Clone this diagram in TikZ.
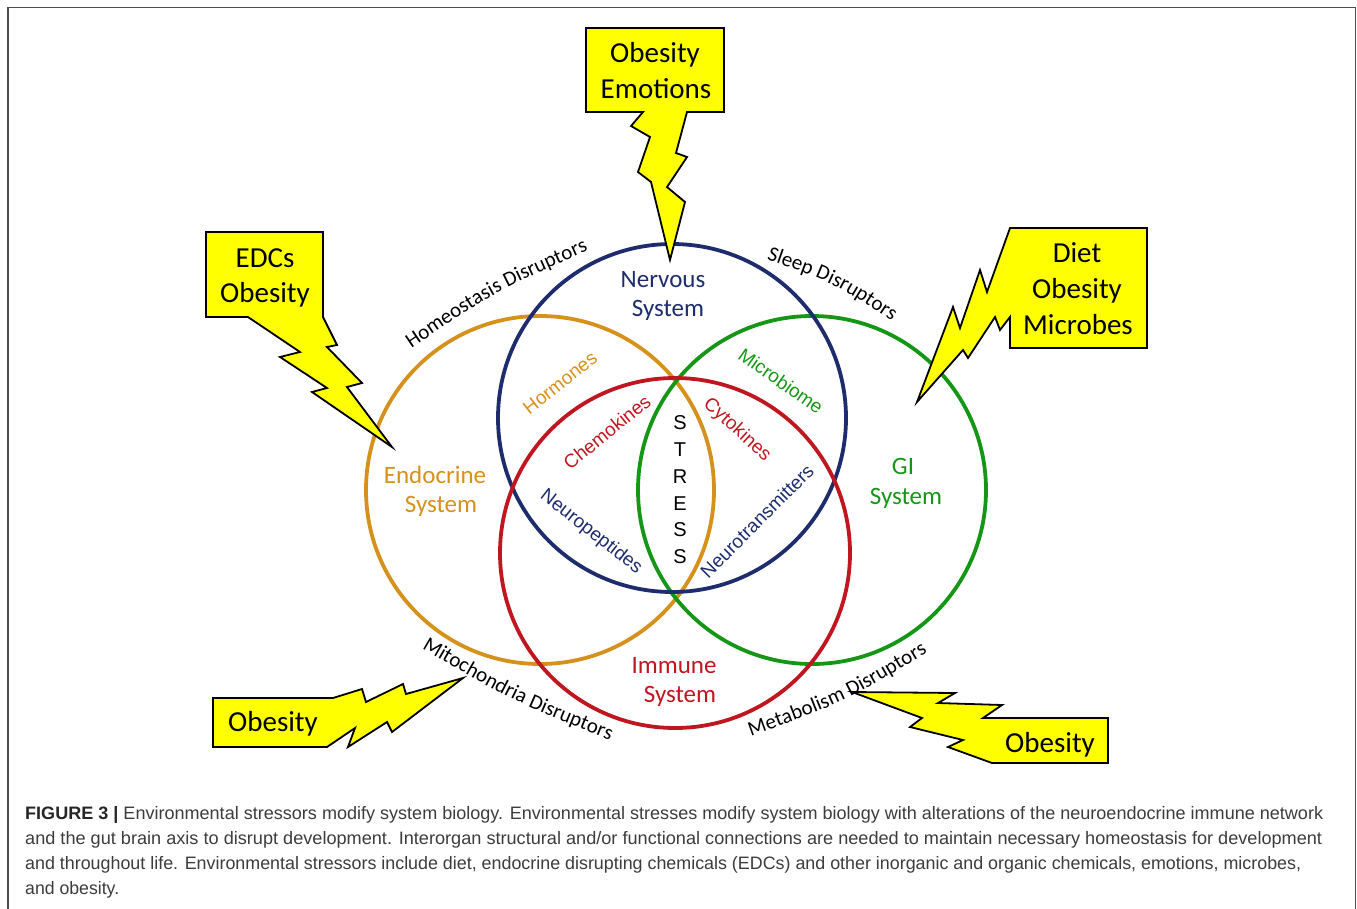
\documentclass[tikz,border=0pt]{standalone}
\usepackage{fontspec}
\usepackage{graphicx}
\setmainfont{Carlito}
\newfontfamily\arialf{Liberation Sans}
\usetikzlibrary{decorations.text}
\definecolor{navyc}{RGB}{30,44,110}
\definecolor{orangec}{RGB}{212,145,28}
\definecolor{greenc}{RGB}{22,150,22}
\definecolor{redc}{RGB}{192,22,32}
\definecolor{boltc}{RGB}{255,255,0}
\definecolor{capc}{RGB}{60,60,60}
\begin{document}
\begin{tikzpicture}[x=1pt,y=-1pt,
  ring/.style={line width=3.8pt},
  bolt/.style={fill=boltc, draw=black, line width=1.8pt, line join=miter},
  boxtxt/.style={anchor=base, font=\fontsize{29}{35}\selectfont, inner sep=0pt},
  systxt/.style={anchor=base, font=\fontsize{25}{30}\selectfont, inner sep=0pt},
  innertxt/.style={font=\arialf\fontsize{19}{22}\selectfont, inner sep=0pt},
  stresstxt/.style={anchor=base, font=\arialf\fontsize{20}{24}\selectfont, inner sep=0pt},
  captxt/.style={anchor=base west, inner sep=0pt, text=capc, font=\arialf\fontsize{18}{22}\selectfont},
  arctxt/.style={decorate, decoration={text along path, text align=center}},
]
\useasboundingbox (0,0) rectangle (1357,908);
% frame
\draw[line width=1.5pt, draw=black!70] (8,912) -- (8,7.5) -- (1355.5,7.5) -- (1355.5,912);

% circles
\draw[ring, draw=orangec] (540,490) circle[radius=174];
\draw[ring, draw=greenc] (812,490) circle[radius=174];
\draw[ring, draw=navyc] (672,418) circle[radius=174];
\draw[ring, draw=redc] (675,553) circle[radius=175];

% bolts with boxes
\draw[bolt] (586,28) -- (724,28) -- (724,112) -- (687,112) -- (676,153) -- (687,157) -- (667,187) -- (685,202) -- (670,260)
  -- (651,182) -- (638,172) -- (650,137) -- (631,126) -- (643,112) -- (586,112) -- cycle;
\draw[bolt] (206,232) -- (323,232) -- (323,317) -- (337,345) -- (327,347) -- (362,383) -- (347,387) -- (392,447)
  -- (312,392) -- (327,388) -- (280,357) -- (300,352) -- (248,317) -- (206,317) -- cycle;
\draw[bolt] (1010,228) -- (1147,228) -- (1147,348) -- (1010,348) -- (1010,317) -- (1000,330) -- (995,317) -- (968,358)
  -- (963,350) -- (917,402) -- (953,307) -- (960,328) -- (980,270) -- (987,292) -- cycle;
\draw[bolt] (213,698) -- (333,698) -- (362,689) -- (366,702) -- (403,684) -- (406,694) -- (463,678)
  -- (392,732) -- (387,722) -- (348,747) -- (355,728) -- (327,747) -- (213,747) -- cycle;
\draw[bolt] (852,692) -- (955,693) -- (938,703) -- (1002,705) -- (983,718) -- (1108,718) -- (1108,763) -- (992,763)
  -- (948,747) -- (963,740) -- (910,727) -- (922,718) -- cycle;

% box texts
\node[boxtxt] (b1a) at (655,62) {Obesity};
\node[boxtxt] (b1b) at (656,98) {Emotions};
\node[boxtxt] (b2a) at (265,267) {EDCs};
\node[boxtxt] (b2b) at (265,302) {Obesity};
\node[boxtxt] (b3a) at (1077,262) {Diet};
\node[boxtxt] (b3b) at (1077,298) {Obesity};
\node[boxtxt] (b3c) at (1078,334) {Microbes};
\node[boxtxt] (b4a) at (273,731) {Obesity};
\node[boxtxt] (b5a) at (1050,752) {Obesity};

% system labels
\node[systxt, text=navyc] (nv1) at (663,287) {Nervous};
\node[systxt, text=navyc] (nv2) at (668,316) {System};
\node[systxt, text=orangec] (en1) at (435,483) {Endocrine};
\node[systxt, text=orangec] (en2) at (441,512) {System};
\node[systxt, text=greenc] (gi1) at (903,474) {GI};
\node[systxt, text=greenc] (gi2) at (906,504) {System};
\node[systxt, text=redc] (im1) at (674,673) {Immune};
\node[systxt, text=redc] (im2) at (680,702) {System};

% inner labels
\node[innertxt, text=orangec, rotate=38] (hor) at (560,383) {Hormones};
\node[innertxt, text=redc, rotate=39] (che) at (607,432) {Chemokines};
\node[innertxt, text=redc, rotate=-42] (cyt) at (737,430) {Cytokines};
\node[innertxt, text=greenc, rotate=-35] (mic) at (781,381) {Microbiome};
\node[innertxt, text=navyc, rotate=-38] (neup) at (591,532) {Neuropeptides};
\node[innertxt, text=navyc, rotate=45] (neut) at (757,521) {Neurotransmitters};

% STRESS
\node[stresstxt] (s1) at (680,429) {S};
\node[stresstxt] (s2) at (680,456) {T};
\node[stresstxt] (s3) at (680,483) {R};
\node[stresstxt] (s4) at (680,510) {E};
\node[stresstxt] (s5) at (680,536) {S};
\node[stresstxt] (s6) at (680,563) {S};

% arc labels
\path[arctxt, decoration={text={|\fontsize{21}{21}\selectfont|Homeostasis Disruptors}}] (406,352) .. controls (494,292) .. (594,248);
\path[arctxt, decoration={text={|\fontsize{21}{21}\selectfont|Sleep Disruptors}}] (762,258) .. controls (834,283) .. (896,324);
\path[arctxt, decoration={text={|\fontsize{21}{21}\selectfont|Mitochondria Disruptors}}] (418,646) .. controls (510,700) .. (614,742);
\path[arctxt, decoration={text={|\fontsize{21}{21}\selectfont|Metabolism Disruptors}}] (746,738) .. controls (845,702) .. (932,650);

% caption
\node[captxt] (cap1) at (25,819) {\resizebox{1298pt}{\height}{\textcolor{black!85}{\textbf{FIGURE 3 |}} Environmental stressors modify system biology. Environmental stresses modify system biology with alterations of the neuroendocrine immune network}};
\node[captxt] (cap2) at (25,844) {\resizebox{1297pt}{\height}{and the gut brain axis to disrupt development. Interorgan structural and/or functional connections are needed to maintain necessary homeostasis for development}};
\node[captxt] (cap3) at (25,869) {\resizebox{1276pt}{\height}{and throughout life. Environmental stressors include diet, endocrine disrupting chemicals (EDCs) and other inorganic and organic chemicals, emotions, microbes,}};
\node[captxt] (cap4) at (25,894) {\resizebox{94pt}{\height}{and obesity.}};
\end{tikzpicture}
\end{document}
